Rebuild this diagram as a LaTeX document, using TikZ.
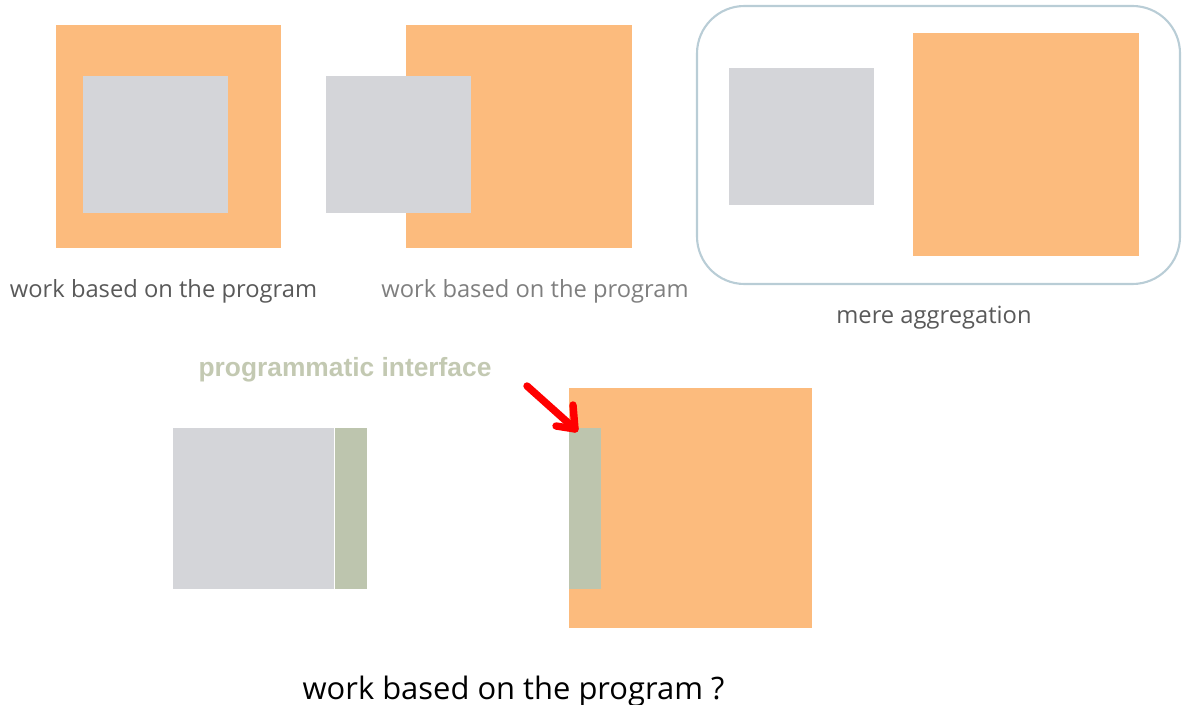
\documentclass[tikz,border=0pt]{standalone}
\usepackage{fontspec}
\setmainfont{Open Sans}
\newfontfamily\arialbold{Liberation Sans}
\usetikzlibrary{fit}
\definecolor{orng}{HTML}{FCBB7D}
\definecolor{gry}{HTML}{D4D5D9}
\definecolor{grn}{HTML}{BDC5AE}
\definecolor{frame}{HTML}{B9CDD6}
\definecolor{lbldark}{HTML}{595959}
\definecolor{lbllight}{HTML}{7F7F7F}
\definecolor{ifc}{HTML}{C3C9B2}
\begin{document}
\begin{tikzpicture}[x=0.02cm,y=-0.02cm,
  blk/.style={inner sep=0pt, outer sep=0pt, draw=none},
  orangebox/.style={blk, fill=orng},
  graybox/.style={blk, fill=gry},
  greenbox/.style={blk, fill=grn},
  lbl/.style={inner sep=0pt, font=\fontsize{13.5}{16}\selectfont},
  redarrow/.style={red, line width=4.2pt, line cap=round, line join=round},
]
\useasboundingbox (0,0) rectangle (1182,705);
% group 1
\node[orangebox, fit={(56,25)(281,248)}] (o1) {};
\node[graybox, fit={(83,76)(228,213)}] (g1) {};
\node[lbl, text=lbldark] (l1) at (163.5,291) {work based on the program};
% group 2
\node[orangebox, fit={(406,25)(632,248)}] (o2) {};
\node[graybox, fit={(326,76)(471,213)}] (g2) {};
\node[lbl, text=lbllight] (l2) at (535,291) {work based on the program};
% group 3
\node[draw=frame, line width=1.2pt, rounded corners=0.95cm, inner sep=0pt, fit={(697,6)(1180,284)}] (agg) {};
\node[graybox, fit={(729,68)(874,205)}] (g3) {};
\node[orangebox, fit={(913,33)(1139,256)}] (o3) {};
\node[lbl, text=lbldark] (l3) at (934,318) {mere aggregation};
% bottom
\node[inner sep=0pt, text=ifc, font=\arialbold\bfseries\fontsize{15}{17}\selectfont] (pi) at (345,370) {programmatic interface};
\node[graybox, fit={(173,428)(334,589)}] (g4) {};
\node[greenbox, fit={(335,428)(367,589)}] (i4) {};
\node[orangebox, fit={(569,388)(812,628)}] (o5) {};
\node[greenbox, fit={(569,428)(601,589)}] (i5) {};
\coordinate (tail) at (527,386);
\coordinate (tip) at (575,429);
\draw[redarrow] (tail) -- (tip);
\draw[redarrow] (573,405) -- (tip) -- (556,426);
\node[inner sep=0pt, font=\fontsize{17.6}{21}\selectfont] (q) at (513.5,691) {work based on the program ?};
\end{tikzpicture}
\end{document}
